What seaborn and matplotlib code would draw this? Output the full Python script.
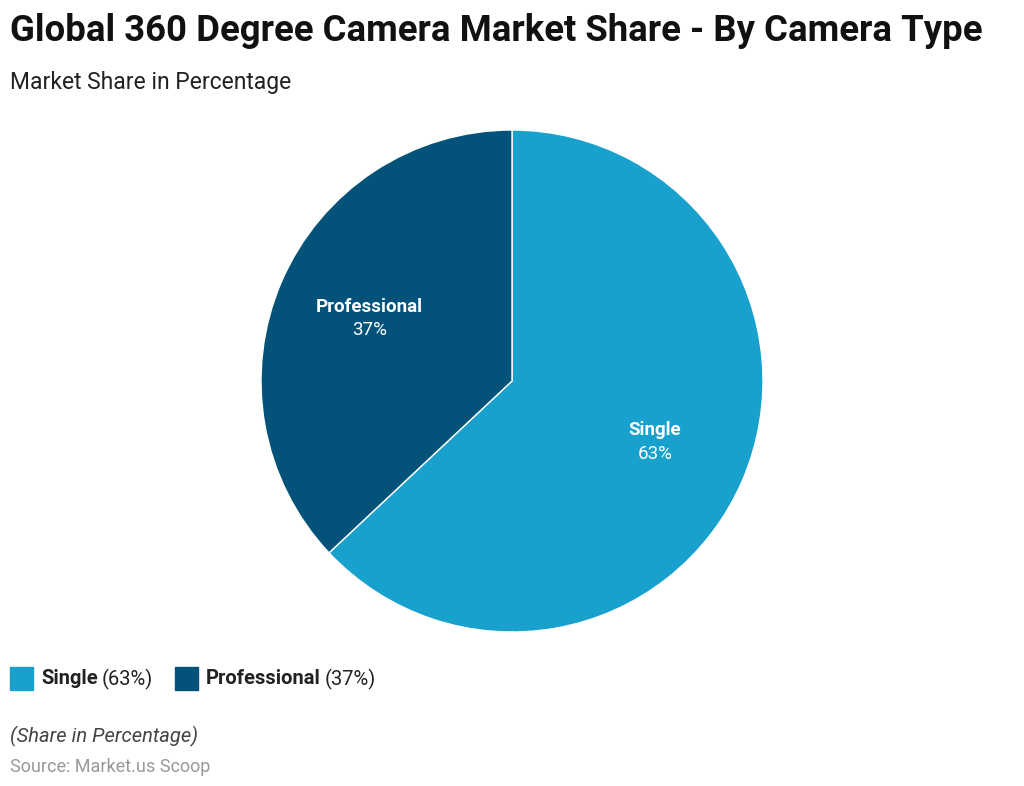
import numpy as np
import matplotlib
matplotlib.use("Agg")
import matplotlib.pyplot as plt
from matplotlib.patches import Rectangle
import seaborn as sns

categories = ["Single", "Professional"]
shares = [63, 37]
colors = ["#19a1cd", "#03527a"]

sns.set_theme(style="white")
plt.rcParams['font.family'] = ['Roboto', 'DejaVu Sans']

fig = plt.figure(figsize=(10.24, 7.86), dpi=100)
ax = fig.add_axes([(512-252)/1024, 1-(381+252)/786, 504/1024, 504/786])
wedges, _ = ax.pie(shares, colors=colors, startangle=90, counterclock=False,
                   wedgeprops=dict(edgecolor="white", linewidth=1))
ax.set_xlim(-1.004, 1.004)
ax.set_ylim(-1.004, 1.004)
ax.set_aspect("equal")
for w, cat, v in zip(wedges, categories, shares):
    ang = np.deg2rad((w.theta1 + w.theta2) / 2)
    x, y = 0.62*np.cos(ang), 0.62*np.sin(ang)
    ax.text(x, y+0.05, cat, ha="center", va="center", color="white", fontsize=13.5, fontweight="bold")
    ax.text(x, y-0.045, f"{v}%", ha="center", va="center", color="white", fontsize=13.5)

fig.text(10/1024, 1-31/786, "Global 360 Degree Camera Market Share - By Camera Type",
         fontsize=26.3, fontweight="bold", va="center", ha="left", color="#111111")
fig.text(10/1024, 1-82/786, "Market Share in Percentage", fontsize=16.5, va="center", color="#222222")

# legend
lx = 10
for cat, v, c in zip(categories, shares, colors):
    fig.patches.append(Rectangle((lx/1024, 1-690/786), 23/1024, 23/786, color=c,
                                 transform=fig.transFigure, figure=fig))
    t1 = fig.text((lx+31)/1024, 1-679/786, cat, fontsize=14.5, fontweight="bold", va="center", color="#222222")
    fig.canvas.draw()
    bb = t1.get_window_extent()
    t2 = fig.text(bb.x1/1024 + 4/1024, 1-679/786, f"({v}%)", fontsize=14.5, va="center", color="#222222")
    fig.canvas.draw()
    lx = t2.get_window_extent().x1 + 22

fig.text(10/1024, 1-736/786, "(Share in Percentage)", fontsize=14.5, style="italic", va="center", color="#444444")
fig.text(10/1024, 1-767/786, "Source: Market.us Scoop", fontsize=13, va="center", color="#999999")

fig.savefig("out.png", dpi=100)
